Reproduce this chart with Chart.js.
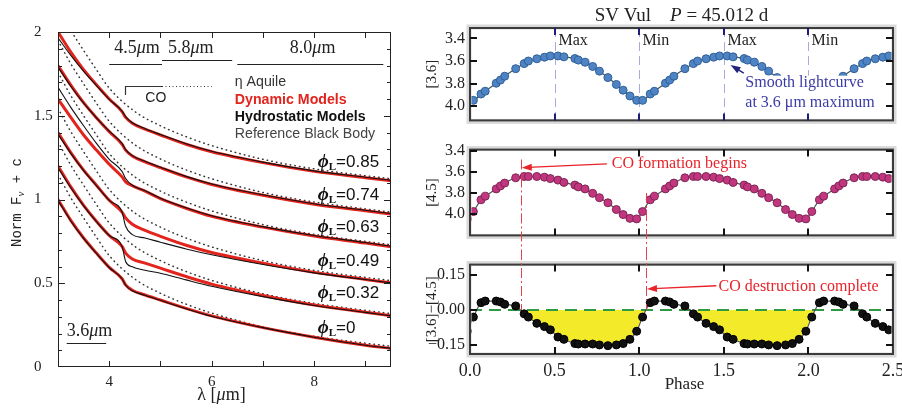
<!DOCTYPE html>
<html>
<head>
<meta charset="utf-8">
<script src="https://cdn.jsdelivr.net/npm/chart.js@4.4.1/dist/chart.umd.min.js"></script>
<style>
  body { margin: 0; background: #fff; overflow: hidden; }
  #wrap { position: relative; width: 902px; height: 408px; overflow: hidden; }
  canvas { position: absolute; }
</style>
</head>
<body>
<div id="wrap">
  <canvas id="spectra" width="420" height="408" style="left:0;top:0"></canvas>
  <canvas id="lc36" width="500" height="135" style="left:420px;top:0"></canvas>
  <canvas id="lc45" width="500" height="115" style="left:420px;top:135px"></canvas>
  <canvas id="lcColor" width="500" height="158" style="left:420px;top:250px"></canvas>
</div>
<script>
// ---- left: normalised spectra of eta Aql, offset per pulsation phase ----
const wavelength = [3.0, 3.25, 3.5, 3.75, 4.0, 4.25, 4.32, 4.45, 4.7, 5.0, 5.5, 6.0, 7.0, 8.0, 9.0, 9.5];
const dyn085 = [2.0, 1.88, 1.775, 1.685, 1.6, 1.525, 1.49, 1.455, 1.42, 1.385, 1.33, 1.285, 1.22, 1.168, 1.13, 1.112];
const hyd085 = [1.965, 1.86, 1.765, 1.68, 1.598, 1.528, 1.495, 1.458, 1.423, 1.388, 1.333, 1.288, 1.223, 1.171, 1.133, 1.115];
const dyn074 = [1.8, 1.683, 1.578, 1.488, 1.405, 1.33, 1.295, 1.26, 1.225, 1.19, 1.135, 1.09, 1.025, 0.972, 0.933, 0.913];
const hyd074 = [1.79, 1.676, 1.575, 1.488, 1.408, 1.335, 1.298, 1.262, 1.228, 1.193, 1.138, 1.093, 1.028, 0.975, 0.936, 0.916];
const dyn063 = [1.6, 1.49, 1.385, 1.295, 1.21, 1.135, 1.105, 1.082, 1.05, 1.005, 0.948, 0.9, 0.835, 0.782, 0.74, 0.718];
const hyd063 = [1.67, 1.55, 1.44, 1.335, 1.24, 1.168, 1.125, 1.085, 1.052, 1.008, 0.951, 0.903, 0.838, 0.785, 0.743, 0.721];
const dyn049 = [1.4, 1.28, 1.175, 1.085, 0.995, 0.925, 0.89, 0.852, 0.815, 0.78, 0.727, 0.684, 0.62, 0.565, 0.523, 0.503];
const hyd049 = [1.39, 1.275, 1.172, 1.083, 0.995, 0.925, 0.84, 0.79, 0.77, 0.745, 0.705, 0.67, 0.612, 0.562, 0.522, 0.502];
const dyn032 = [1.2, 1.075, 0.965, 0.87, 0.785, 0.72, 0.68, 0.645, 0.62, 0.59, 0.54, 0.495, 0.427, 0.37, 0.327, 0.306];
const hyd032 = [1.19, 1.07, 0.962, 0.868, 0.785, 0.72, 0.63, 0.598, 0.578, 0.56, 0.52, 0.482, 0.42, 0.367, 0.326, 0.305];
const dyn000 = [1.0, 0.875, 0.77, 0.68, 0.595, 0.527, 0.49, 0.458, 0.43, 0.4, 0.35, 0.305, 0.235, 0.178, 0.13, 0.111];
const hyd000 = [0.995, 0.872, 0.768, 0.678, 0.594, 0.527, 0.488, 0.455, 0.428, 0.398, 0.348, 0.303, 0.235, 0.178, 0.13, 0.111];

const bbWavelength = [3.0, 3.25, 3.5, 3.75, 4.0, 4.5, 5.0, 5.5, 6.0, 7.0, 8.0, 9.0, 9.5];
const bb085 = [2.15, 2.01, 1.89, 1.775, 1.665, 1.525, 1.44, 1.375, 1.322, 1.24, 1.183, 1.142, 1.124];
const bb074 = [1.95, 1.81, 1.69, 1.575, 1.467, 1.327, 1.242, 1.177, 1.124, 1.042, 0.985, 0.944, 0.925];
const bb063 = [1.76, 1.62, 1.5, 1.385, 1.275, 1.135, 1.05, 0.985, 0.932, 0.85, 0.792, 0.75, 0.73];
const bb049 = [1.545, 1.405, 1.285, 1.17, 1.06, 0.92, 0.835, 0.77, 0.717, 0.635, 0.577, 0.535, 0.516];
const bb032 = [1.345, 1.205, 1.085, 0.97, 0.86, 0.72, 0.635, 0.57, 0.517, 0.437, 0.38, 0.338, 0.319];
const bb000 = [1.15, 1.01, 0.89, 0.775, 0.665, 0.525, 0.44, 0.375, 0.322, 0.24, 0.183, 0.142, 0.124];

const phaseNames = ["0.85", "0.74", "0.63", "0.49", "0.32", "0"];
const phaseLabelY = [1.224, 1.027, 0.836, 0.633, 0.442, 0.233];
const specTicksX = [4, 6, 8];
const specTicksY = [0, 0.5, 1, 1.5, 2];
// IRAC bandpasses (µm)
const bandNames = ["4.5", "5.8", "8.0"];
const bandFrom = [4.0, 5.03, 6.5];
const bandTo = [5.03, 6.4, 9.35];

// ---- right: SV Vul, one cycle of phased photometry ----
const obsPhase = [0.02, 0.065, 0.09, 0.155, 0.18, 0.205, 0.27, 0.32, 0.345, 0.395, 0.44, 0.475,
  0.52, 0.555, 0.62, 0.64, 0.68, 0.725, 0.765, 0.815, 0.865, 0.905, 0.945, 0.985];
const mag36 = [3.949, 3.893, 3.868, 3.797, 3.769, 3.735, 3.668, 3.623, 3.6, 3.58, 3.566, 3.555,
  3.555, 3.563, 3.578, 3.592, 3.611, 3.648, 3.69, 3.747, 3.808, 3.859, 3.91, 3.949];
const mag45 = [3.975, 3.864, 3.83, 3.761, 3.733, 3.706, 3.656, 3.644, 3.644, 3.644, 3.65, 3.664,
  3.678, 3.7, 3.725, 3.742, 3.761, 3.803, 3.844, 3.892, 3.956, 4.003, 4.039, 4.044];
const color36m45 = [-0.031, 0.031, 0.038, 0.038, 0.034, 0.024, 0.017, -0.017, -0.031, -0.058, -0.072, -0.086,
  -0.117, -0.127, -0.145, -0.147, -0.147, -0.147, -0.151, -0.154, -0.151, -0.145, -0.127, -0.092];
const phaseTicks = [0, 0.5, 1, 1.5, 2, 2.5];
const magTicks = [3.4, 3.6, 3.8, 4.0];
const colorTicks = [0.15, 0, -0.15];
const extremaPhase = [0.5, 1, 1.5, 2];
const extremaName = ["Max", "Min", "Max", "Min"];
const coFormPhase = 0.3;
const coDestPhase = 1.04;

const ink = "#222";
const red = "#e3241d";
const serifFont = (size, style = "normal", weight = "normal") =>
  `${style} ${weight} ${size}px "Liberation Serif"`;
const pts = (xs, ys) => xs.map((x, i) => ({ x, y: ys[i] }));

function drawRuns(ctx, x, y, runs, align = "left") {
  let w = 0;
  runs.forEach((r) => { ctx.font = r.font; w += ctx.measureText(r.text).width; });
  let cx = align === "center" ? x - w / 2 : align === "right" ? x - w : x;
  ctx.textAlign = "left";
  ctx.textBaseline = "middle";
  runs.forEach((r) => {
    ctx.font = r.font;
    if (r.color) ctx.fillStyle = r.color;
    ctx.fillText(r.text, cx, y + (r.dy || 0));
    cx += ctx.measureText(r.text).width;
  });
}

function arrow(ctx, x1, y1, x2, y2, color) {
  const a = Math.atan2(y2 - y1, x2 - x1);
  const c = Math.cos(a), s = Math.sin(a);
  ctx.strokeStyle = color;
  ctx.fillStyle = color;
  ctx.lineWidth = 1.3;
  ctx.setLineDash([]);
  ctx.beginPath();
  ctx.moveTo(x1, y1);
  ctx.lineTo(x2 - 6 * c, y2 - 6 * s);
  ctx.stroke();
  ctx.beginPath();
  ctx.moveTo(x2, y2);
  ctx.lineTo(x2 - 10 * c + 3.5 * s, y2 - 10 * s - 3.5 * c);
  ctx.lineTo(x2 - 10 * c - 3.5 * s, y2 - 10 * s + 3.5 * c);
  ctx.closePath();
  ctx.fill();
}

// ---------------- left chart ----------------
const dynSeries = [dyn085, dyn074, dyn063, dyn049, dyn032, dyn000];
const hydSeries = [hyd085, hyd074, hyd063, hyd049, hyd032, hyd000];
const bbSeries = [bb085, bb074, bb063, bb049, bb032, bb000];

const lineBase = { pointRadius: 0, fill: false, cubicInterpolationMode: "monotone" };
const specDatasets = [];
hydSeries.forEach((s) =>
  specDatasets.push({ ...lineBase, data: pts(wavelength, s), borderColor: "#111", borderWidth: 1.1 }),
);
dynSeries.forEach((s) =>
  specDatasets.push({ ...lineBase, data: pts(wavelength, s), borderColor: red, borderWidth: 3 }),
);
bbSeries.forEach((s) =>
  specDatasets.push({
    ...lineBase, data: pts(bbWavelength, s), borderColor: "#333", borderWidth: 1.5,
    borderDash: [0.5, 4.2], borderCapStyle: "round",
  }),
);

const spectraDecor = {
  id: "spectraDecor",
  afterDraw(chart) {
    const { ctx, chartArea: a, scales: { x, y } } = chart;
    ctx.save();
    // frame and inward ticks
    ctx.strokeStyle = ink;
    ctx.lineWidth = 1;
    ctx.strokeRect(a.left + 0.5, a.top + 0.5, a.width - 1, a.height - 1);
    ctx.beginPath();
    for (let i = 1; i < 20; i++) {
      const py = Math.round(y.getPixelForValue(i / 10)) + 0.5;
      const len = i % 5 === 0 ? 7 : 4;
      ctx.moveTo(a.left, py); ctx.lineTo(a.left + len, py);
      ctx.moveTo(a.right, py); ctx.lineTo(a.right - len, py);
    }
    for (let v = 4; v <= 9; v++) {
      const px = Math.round(x.getPixelForValue(v)) + 0.5;
      ctx.moveTo(px, a.bottom); ctx.lineTo(px, a.bottom - 6);
      ctx.moveTo(px, a.top); ctx.lineTo(px, a.top + 6);
    }
    ctx.stroke();

    // axis titles
    ctx.fillStyle = ink;
    ctx.save();
    ctx.translate(17, (a.top + a.bottom) / 2 + 3);
    ctx.rotate(-Math.PI / 2);
    drawRuns(ctx, 0, 0, [
      { text: "Norm F", font: '14px "Liberation Mono"' },
      { text: "ν", font: 'italic 11px "Liberation Serif"', dy: 4 },
      { text: " + c", font: '14px "Liberation Mono"' },
    ], "center");
    ctx.restore();
    drawRuns(ctx, (a.left + a.right) / 2 - 3, 395, [
      { text: "λ [", font: serifFont(18) },
      { text: "μ", font: serifFont(18, "italic") },
      { text: "m]", font: serifFont(18) },
    ], "center");

    // bandpass bars
    ctx.lineWidth = 1.2;
    const barY = [1.81, 1.833, 1.81];
    bandNames.forEach((n, i) => {
      const x1 = x.getPixelForValue(bandFrom[i]), x2 = x.getPixelForValue(bandTo[i]);
      const py = Math.round(y.getPixelForValue(barY[i])) + 0.5;
      ctx.beginPath(); ctx.moveTo(x1, py); ctx.lineTo(x2, py); ctx.stroke();
    });
    const bandTextX = [4.54, 5.59, 7.97];
    bandNames.forEach((n, i) => {
      drawRuns(ctx, x.getPixelForValue(bandTextX[i]), y.getPixelForValue(1.905), [
        { text: n, font: serifFont(18) },
        { text: "μ", font: serifFont(18, "italic") },
        { text: "m", font: serifFont(18) },
      ], "center");
    });
    // 3.6 µm band
    const b36y = Math.round(y.getPixelForValue(0.143)) + 0.5;
    ctx.beginPath();
    ctx.moveTo(x.getPixelForValue(3.17), b36y); ctx.lineTo(x.getPixelForValue(3.94), b36y);
    ctx.stroke();
    drawRuns(ctx, x.getPixelForValue(3.17), y.getPixelForValue(0.215), [
      { text: "3.6", font: serifFont(18) },
      { text: "μ", font: serifFont(18, "italic") },
      { text: "m", font: serifFont(18) },
    ]);

    // CO bracket
    const coY = Math.round(y.getPixelForValue(1.678)) + 0.5;
    const coX = Math.round(x.getPixelForValue(4.31)) + 0.5;
    ctx.strokeStyle = "#333";
    ctx.beginPath();
    ctx.moveTo(coX, y.getPixelForValue(1.624)); ctx.lineTo(coX, coY);
    ctx.lineTo(x.getPixelForValue(5.03), coY);
    ctx.stroke();
    ctx.setLineDash([1, 2.5]);
    ctx.beginPath();
    ctx.moveTo(x.getPixelForValue(5.03), coY); ctx.lineTo(x.getPixelForValue(6.0), coY);
    ctx.stroke();
    ctx.setLineDash([]);
    ctx.fillStyle = ink;
    drawRuns(ctx, x.getPixelForValue(4.91), y.getPixelForValue(1.603), [
      { text: "CO", font: '14px "Liberation Sans"' },
    ], "center");

    // legend
    const lx = x.getPixelForValue(6.45);
    drawRuns(ctx, lx, y.getPixelForValue(1.70), [{ text: "η Aquile", font: '14.2px "Liberation Sans"', color: "#333" }]);
    drawRuns(ctx, lx, y.getPixelForValue(1.594), [{ text: "Dynamic Models", font: 'bold 14.2px "Liberation Sans"', color: red }]);
    drawRuns(ctx, lx, y.getPixelForValue(1.493), [{ text: "Hydrostatic Models", font: 'bold 14.2px "Liberation Sans"', color: "#111" }]);
    drawRuns(ctx, lx, y.getPixelForValue(1.391), [{ text: "Reference Black Body", font: '14.2px "Liberation Sans"', color: "#444" }]);

    // phase labels
    phaseNames.forEach((n, i) => {
      drawRuns(ctx, x.getPixelForValue(8.07), y.getPixelForValue(phaseLabelY[i]), [
        { text: "ϕ", font: serifFont(19, "italic", "bold"), color: "#111" },
        { text: "L", font: serifFont(11, "normal", "bold"), dy: 5 },
        { text: "=" + n, font: '17px "Liberation Sans"' },
      ]);
    });
    ctx.restore();
  },
};

new Chart(document.getElementById("spectra"), {
  type: "line",
  data: { datasets: specDatasets },
  options: {
    responsive: false,
    animation: false,
    devicePixelRatio: 1,
    layout: { padding: { left: 34, top: 32, right: 29, bottom: 0 } },
    plugins: { legend: { display: false }, tooltip: { enabled: false } },
    scales: {
      x: {
        type: "linear", min: 3, max: 9.5,
        grid: { display: false, drawTicks: false }, border: { display: false },
        afterBuildTicks: (s) => { s.ticks = specTicksX.map((v) => ({ value: v })); },
        afterFit: (s) => { s.height = 41; },
        ticks: { padding: 6, maxRotation: 0, color: ink, font: { family: "Liberation Serif", size: 15 }, callback: (v) => String(v) },
      },
      y: {
        type: "linear", min: 0, max: 2,
        grid: { display: false, drawTicks: false }, border: { display: false },
        afterBuildTicks: (s) => { s.ticks = specTicksY.map((v) => ({ value: v })); },
        afterFit: (s) => { s.width = 24; },
        ticks: { crossAlign: "far", padding: 0, color: ink, font: { family: "Liberation Serif", size: 15 }, callback: (v) => String(v) },
      },
    },
  },
  plugins: [spectraDecor],
});

// ---------------- right panels ----------------
function phased(values) {
  const out = [];
  for (let k = -1; k <= 2; k++) {
    obsPhase.forEach((p, i) => {
      const x = p + k;
      if (x > -0.05 && x < 2.55) out.push({ x, y: values[i] });
    });
  }
  return out;
}

function curveSet(values, fillCol, edgeCol) {
  return {
    data: phased(values), borderColor: "#4a5454", borderWidth: 1.2,
    pointRadius: 4, pointBackgroundColor: fillCol, pointBorderColor: edgeCol, pointBorderWidth: 1,
    cubicInterpolationMode: "monotone", fill: false,
  };
}

function panelDecor(o) {
  return {
    id: "panelDecor",
    beforeDatasetsDraw(chart) {
      if (o.under) o.under(chart);
    },
    afterDraw(chart) {
      const { ctx, chartArea: a, scales: { x, y } } = chart;
      ctx.save();
      if (o.over) o.over(chart);
      // frame with soft shadow
      ctx.setLineDash([]);
      ctx.strokeStyle = "#d9d9d9";
      ctx.lineWidth = 5;
      ctx.strokeRect(a.left - 1, a.top - 1, a.width + 2, a.height + 2);
      ctx.strokeStyle = "#3b3b3b";
      ctx.lineWidth = 2;
      ctx.strokeRect(a.left, a.top, a.width, a.height);
      // inward ticks
      ctx.lineWidth = 2;
      ctx.strokeStyle = o.xTickColor || "#111";
      ctx.beginPath();
      phaseTicks.slice(1, -1).forEach((v) => {
        const px = Math.round(x.getPixelForValue(v));
        ctx.moveTo(px, a.bottom); ctx.lineTo(px, a.bottom - 7);
        ctx.moveTo(px, a.top); ctx.lineTo(px, a.top + 7);
      });
      ctx.stroke();
      ctx.strokeStyle = "#111";
      ctx.beginPath();
      o.ticks.forEach((v) => {
        const py = Math.round(y.getPixelForValue(v));
        ctx.moveTo(a.left, py); ctx.lineTo(a.left + 7, py);
        ctx.moveTo(a.right, py); ctx.lineTo(a.right - 7, py);
      });
      ctx.stroke();
      // y title
      ctx.fillStyle = ink;
      ctx.save();
      ctx.translate(12, (a.top + a.bottom) / 2);
      ctx.rotate(-Math.PI / 2);
      drawRuns(ctx, 0, 0, [{ text: o.yTitle, font: serifFont(15) }], "center");
      ctx.restore();
      if (o.top) o.top(chart);
      ctx.restore();
    },
  };
}

function lightPanel(id, o) {
  return new Chart(document.getElementById(id), {
    type: "line",
    data: { datasets: o.datasets },
    options: {
      responsive: false,
      animation: false,
      devicePixelRatio: 1,
      layout: { padding: o.padding },
      plugins: { legend: { display: false }, tooltip: { enabled: false } },
      scales: {
        x: {
          type: "linear", min: 0, max: 2.5, display: !!o.showX,
          grid: { display: false, drawTicks: false }, border: { display: false },
          afterBuildTicks: (s) => { s.ticks = phaseTicks.map((v) => ({ value: v })); },
          afterFit: (s) => { s.height = o.showX ? 54 : 0; },
          ticks: { padding: 6, maxRotation: 0, color: ink, font: { family: "Liberation Serif", size: 18 }, callback: (v) => v.toFixed(1) },
        },
        y: {
          type: "linear", min: o.min, max: o.max, reverse: !!o.reverse,
          grid: { display: false, drawTicks: false }, border: { display: false },
          afterBuildTicks: (s) => { s.ticks = o.ticks.map((v) => ({ value: v })); },
          afterFit: (s) => { s.width = 50; },
          ticks: { padding: 5, color: ink, font: { family: "Liberation Serif", size: 16 }, callback: o.fmt },
        },
      },
    },
    plugins: [panelDecor(o)],
  });
}

function redGuide(chart, phase, fromY, toY) {
  const { ctx, scales: { x } } = chart;
  const px = Math.round(x.getPixelForValue(phase)) + 0.5;
  ctx.strokeStyle = "#e8404a";
  ctx.lineWidth = 1;
  ctx.setLineDash([10, 3, 2, 3]);
  ctx.beginPath();
  ctx.moveTo(px, fromY); ctx.lineTo(px, toY);
  ctx.stroke();
  ctx.setLineDash([]);
}

// [3.6] light curve
lightPanel("lc36", {
  datasets: [curveSet(mag36, "#4f84c4", "#2f5f98")],
  padding: { left: 0, right: 27, top: 28, bottom: 10 },
  min: 3.307, max: 4.127, reverse: true, ticks: magTicks, fmt: (v) => v.toFixed(1),
  yTitle: "[3.6]", xTickColor: "#1d1d78",
  under(chart) {
    const { ctx, chartArea: a, scales: { x, y } } = chart;
    ctx.save();
    ctx.strokeStyle = "#a8acdc";
    ctx.lineWidth = 1;
    ctx.setLineDash([9, 5]);
    extremaPhase.forEach((p, i) => {
      const px = Math.round(x.getPixelForValue(p)) + 0.5;
      ctx.beginPath(); ctx.moveTo(px, a.top); ctx.lineTo(px, a.bottom); ctx.stroke();
      ctx.fillStyle = ink;
      drawRuns(ctx, px + 3, y.getPixelForValue(3.425), [{ text: extremaName[i], font: serifFont(16) }]);
    });
    ctx.restore();
  },
  over(chart) {
    const { ctx, scales: { x, y } } = chart;
    const x1 = x.getPixelForValue(1.605), x2 = x.getPixelForValue(2.45);
    const y1 = y.getPixelForValue(3.73), y2 = y.getPixelForValue(4.068);
    ctx.fillStyle = "#fff";
    ctx.fillRect(x1, y1, x2 - x1, y2 - y1);
    const blue = "#3b3ba6";
    drawRuns(ctx, x.getPixelForValue(1.627), y.getPixelForValue(3.797), [{ text: "Smooth lightcurve", font: serifFont(16), color: blue }]);
    drawRuns(ctx, x.getPixelForValue(1.627), y.getPixelForValue(3.975), [{ text: "at 3.6 μm maximum", font: serifFont(16), color: blue }]);
    arrow(ctx, x.getPixelForValue(1.618), y.getPixelForValue(3.707), x.getPixelForValue(1.54), y.getPixelForValue(3.635), "#23237e");
  },
  top(chart) {
    const { ctx, chartArea: a } = chart;
    ctx.fillStyle = ink;
    drawRuns(ctx, (a.left + a.right) / 2, 16, [
      { text: "SV Vul    ", font: serifFont(19) },
      { text: "P", font: serifFont(19, "italic") },
      { text: " = 45.012 d", font: serifFont(19) },
    ], "center");
  },
});

// [4.5] light curve
lightPanel("lc45", {
  datasets: [curveSet(mag45, "#c2357f", "#7d2654")],
  padding: { left: 0, right: 27, top: 9, bottom: 9 },
  min: 3.39, max: 4.2, reverse: true, ticks: magTicks, fmt: (v) => v.toFixed(1),
  yTitle: "[4.5]",
  top(chart) {
    const { ctx, scales: { x, y } } = chart;
    redGuide(chart, coFormPhase, y.getPixelForValue(3.483), chart.height);
    redGuide(chart, coDestPhase, y.getPixelForValue(3.8), chart.height);
    drawRuns(ctx, x.getPixelForValue(0.838), y.getPixelForValue(3.525), [{ text: "CO formation begins", font: serifFont(16), color: "#e8232a" }]);
    arrow(ctx, x.getPixelForValue(0.809), y.getPixelForValue(3.525), x.getPixelForValue(0.306), y.getPixelForValue(3.561), "#e8232a");
  },
});

// [3.6]-[4.5] colour curve with CO absorption shaded
const inDip = (p) => (p > 0.25 && p < 1.08) || (p > 1.25 && p < 2.08);
const dipData = phased(color36m45).map((p) => (inDip(p.x) ? p : { x: p.x, y: null }));

lightPanel("lcColor", {
  datasets: [
    curveSet(color36m45, "#111", "#000"),
    {
      data: [{ x: 0, y: 0 }, { x: 2.5, y: 0 }], borderColor: "#2f9a44", borderWidth: 2,
      borderDash: [12, 7], pointRadius: 0, fill: false,
    },
    {
      data: dipData, borderWidth: 0, pointRadius: 0, spanGaps: false,
      cubicInterpolationMode: "monotone",
      fill: { target: { value: 0 }, above: "rgba(0,0,0,0)", below: "#f3ea2a" },
    },
  ],
  padding: { left: 0, right: 27, top: 10, bottom: 0 },
  min: -0.19, max: 0.195, ticks: colorTicks, showX: true,
  fmt: (v) => (v < 0 ? "−" + Math.abs(v).toFixed(2) : v.toFixed(2)),
  yTitle: "[3.6]−[4.5]",
  top(chart) {
    const { ctx, chartArea: a, scales: { x, y } } = chart;
    redGuide(chart, coFormPhase, 0, y.getPixelForValue(0));
    redGuide(chart, coDestPhase, 0, y.getPixelForValue(0));
    drawRuns(ctx, x.getPixelForValue(1.469), y.getPixelForValue(0.1), [{ text: "CO destruction complete", font: serifFont(16), color: "#e8232a" }]);
    arrow(ctx, x.getPixelForValue(1.456), y.getPixelForValue(0.104), x.getPixelForValue(1.046), y.getPixelForValue(0.09), "#e8232a");
    ctx.fillStyle = ink;
    drawRuns(ctx, (a.left + a.right) / 2 + 3, 135, [{ text: "Phase", font: serifFont(17) }], "center");
  },
});
</script>
</body>
</html>
